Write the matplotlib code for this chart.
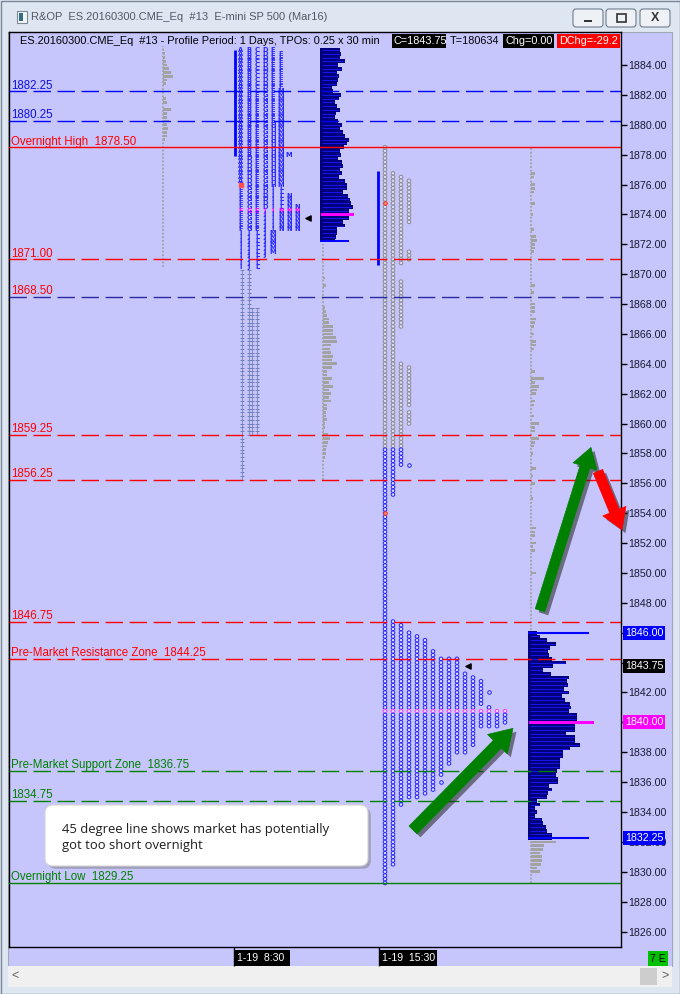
import numpy as np
import matplotlib
matplotlib.use("Agg")
import matplotlib.pyplot as plt
from matplotlib.patches import Rectangle, FancyBboxPatch
from matplotlib.ticker import FuncFormatter
import matplotlib.patheffects as pe

plt.rcParams['font.family'] = ['Liberation Sans', 'DejaVu Sans']
plt.rcParams['lines.scale_dashes'] = False

# ---------------- data ----------------
title = "R&OP  ES.20160300.CME_Eq  #13  E-mini SP 500 (Mar16)"
header = "ES.20160300.CME_Eq  #13 - Profile Period: 1 Days, TPOs: 0.25 x 30 min"
callout = "45 degree line shows market has potentially\ngot too short overnight"

levels = [1882.25, 1880.25, 1878.50, 1871.00, 1868.50, 1859.25, 1856.25,
          1846.75, 1844.25, 1836.75, 1834.75, 1829.25]
level_labels = ["1882.25", "1880.25", "Overnight High  1878.50", "1871.00", "1868.50",
                "1859.25", "1856.25", "1846.75", "Pre-Market Resistance Zone  1844.25",
                "Pre-Market Support Zone  1836.75", "1834.75", "Overnight Low  1829.25"]
level_line_colors = ["#0000ff", "#0000ff", "#ff0000", "#ff0000", "#2a2aa0", "#ff0000", "#ff0000",
                     "#ff0000", "#ff0000", "#008000", "#008000", "#008000"]
level_text_colors = ["#1010e0", "#1010e0", "#ff0000", "#ff0000", "#ff0000", "#ff0000", "#ff0000",
                     "#ff0000", "#ff0000", "#008000", "#008000", "#008000"]
level_solid = [False, False, True, False, False, False, False, False, False, False, False, True]

# dark volume profiles (bars from top price downward, 0.25 steps)
left_vol_top = 1885.0
left_vol_len = [20, 21, 20, 25, 18, 22, 17, 19, 18, 17, 12, 13, 21, 19, 15, 17, 20, 16, 15, 18,
                22, 20, 23, 25, 29, 27, 24, 20, 21, 18, 22, 23, 20, 22, 19, 25, 27, 27, 23, 28,
                30, 31, 33, 29, 33, 29, 23, 25, 17, 17, 16, 15]
left_vol_poc, left_vol_poc_len = 1874.0, 33
left_vol_edge, left_vol_edge_len = 1872.25, 29

right_vol_top = 1846.0
right_vol_len = [9, 12, 19, 28, 22, 20, 21, 24, 38, 25, 15, 23, 41, 39, 40, 36, 41, 34, 37, 42,
                 43, 41, 49, 49, 49, 47, 47, 38, 47, 47, 52, 42, 35, 35, 32, 32, 32, 29, 28, 30,
                 30, 21, 24, 20, 19, 9, 12, 7, 9, 7, 14, 15, 18, 19, 24, 24]
right_vol_poc, right_vol_poc_len = 1840.0, 65
right_vol_edges, right_vol_edge_len = [1846.0, 1832.25], 61

# small gray profiles
gray1_prices = [1885.0, 1884.75, 1884.5, 1884.25, 1884.0, 1883.75, 1883.5, 1883.25, 1883.0, 1882.75,
                1881.75, 1881.5, 1881.0, 1880.75, 1880.5, 1880.25, 1880.0, 1879.75, 1879.5, 1879.25, 1879.0]
gray1_len = [1, 2, 2, 3, 4, 6, 8, 10, 4, 3, 3, 4, 8, 4, 4, 6, 4, 5, 4, 4, 2]
gray1_span = (1885.25, 1870.5)

gray2_prices = [1869.75, 1869.25] + list(np.arange(1867.75, 1857.4, -0.25))
gray2_len = [2, 3, 2, 3, 4, 6, 6, 10, 10, 10, 13, 14, 8, 7, 8, 10, 9, 14, 9, 4, 4, 9,
             6, 10, 6, 8, 6, 8, 4, 4, 3, 3, 4, 2, 2, 1, 5, 7, 5, 4, 3, 3, 2, 1]
gray2_span = (1872.0, 1856.25)

gray3_prices = [1876.75, 1876.5, 1876.0, 1875.75, 1875.5, 1874.75, 1874.0, 1873.0, 1872.5, 1872.25,
                1872.0, 1871.75, 1871.5, 1869.25, 1868.75, 1868.0, 1867.75, 1867.5, 1867.0, 1866.75,
                1866.5, 1866.0, 1865.5, 1865.25, 1865.0, 1863.5, 1863.0, 1862.75, 1862.5, 1862.25,
                1862.0, 1861.5, 1861.25, 1860.5, 1860.0, 1859.75, 1859.5, 1859.0, 1858.75, 1858.5,
                1858.0, 1857.0, 1856.5, 1856.0, 1855.0, 1853.0, 1852.75, 1852.5, 1852.0, 1851.75,
                1851.5, 1850.0, 1832.0, 1831.75, 1831.5, 1831.25, 1831.0, 1830.75, 1830.5, 1830.25, 1830.0]
gray3_len = [4, 3, 4, 4, 3, 4, 2, 3, 5, 6, 4, 4, 3, 4, 3, 4, 4, 4, 5, 4, 3, 3, 5, 5, 3,
             4, 13, 4, 8, 6, 5, 4, 3, 3, 8, 4, 4, 8, 4, 3, 2, 5, 2, 4, 2, 5, 4, 4, 5, 2, 4, 5,
             25, 13, 12, 9, 11, 11, 10, 6, 9]
gray3_span = (1878.5, 1829.25)

# letter TPO block: (top, bottom, letter) per column
letter_segs = [
    [(1885.0, 1876.25, 'A'), (1876.0, 1873.0, 'F'), (1872.75, 1870.5, 'I')],
    [(1885.0, 1878.0, 'B'), (1877.75, 1876.0, 'D'), (1875.75, 1873.0, 'G'), (1872.75, 1870.5, 'J')],
    [(1885.0, 1882.25, 'C'), (1882.0, 1873.0, 'E'), (1872.75, 1870.5, 'L')],
    [(1885.0, 1882.25, 'D'), (1882.0, 1876.0, 'G'), (1875.75, 1874.5, 'D'), (1874.25, 1871.25, 'J')],
    [(1885.0, 1880.25, 'E'), (1880.0, 1876.0, 'H'), (1875.75, 1873.0, 'I'), (1872.75, 1871.5, 'M')],
    [(1884.75, 1882.5, 'F'), (1882.25, 1876.0, 'M'), (1875.75, 1874.5, 'L'), (1874.25, 1873.0, 'N')],
    [(1878.0, 1878.0, 'M'), (1875.25, 1873.0, 'N')],
    [(1874.5, 1873.0, 'N')],
]
letter_poc = 1874.25
tick_cols = [(1870.25, 1856.25), (1870.25, 1859.25), (1867.75, 1859.25), (1867.75, 1859.25)]

# circle TPO block: gray and blue segments per column
circle_gray = [[(1878.5, 1858.5)], [(1876.75, 1858.5)],
               [(1876.5, 1870.75), (1869.5, 1866.5), (1864.0, 1858.5)],
               [(1876.25, 1873.5), (1871.5, 1871.0), (1863.75, 1861.25), (1860.75, 1860.0)]]
circle_blue = [[(1858.25, 1829.25)],
               [(1858.25, 1855.25), (1846.75, 1830.5)],
               [(1858.25, 1857.25), (1846.5, 1834.5)],
               [(1857.25, 1857.25), (1846.0, 1835.0)],
               [(1845.75, 1835.0)], [(1845.5, 1835.25)], [(1844.75, 1835.5)],
               [(1844.25, 1836.5), (1836.0, 1836.0)], [(1844.25, 1837.25)], [(1844.25, 1838.0)],
               [(1843.25, 1838.0)], [(1843.0, 1838.5)],
               [(1842.75, 1841.25), (1840.75, 1839.75)],
               [(1842.0, 1842.0), (1841.0, 1839.75)],
               [(1840.75, 1839.75)], [(1840.75, 1840.0)]]
circle_poc = 1840.75
open_marks = [1874.75, 1854.0]

# highlighted right-axis prices
price_tags = [1846.00, 1843.75, 1840.00, 1832.25]
price_tag_colors = ["#0000ff", "#000000", "#ff00ff", "#0000ff"]
hidden_ticks = [1846, 1844, 1840]

time_labels = ["1-19  8:30", "1-19  15:30"]

# ---------------- layout (pixels) ----------------
W, H = 680, 994
Y0, P0, PPP = 65, 1884.0, 14.94


def price_at(py):
    return P0 - (py - Y0) / PPP


fig = plt.figure(figsize=(W / 100, H / 100), dpi=100)
fig.patch.set_facecolor('#dde6f1')

bg = fig.add_axes([0, 0, 1, 1], zorder=-1)
bg.set_xlim(0, W); bg.set_ylim(H, 0); bg.axis('off')
bg.add_patch(Rectangle((0.5, 0.5), W - 1, H - 1, fc='#dde6f1', ec='#7a8898', lw=1))
bg.add_patch(Rectangle((8, 32), 664, 934, fc='#c6c6fc', ec='#a0a8b8', lw=0.8))
bg.add_patch(Rectangle((8, 966), 664, 21, fc='#f0f0f0', ec='none'))
bg.add_patch(Rectangle((640, 968), 17, 17, fc='#cdcdcd', ec='none'))
bg.text(15, 976, '<', fontsize=9, color='#606060', va='center', ha='center')
bg.text(665, 976, '>', fontsize=9, color='#606060', va='center', ha='center')
# title bar
bg.add_patch(Rectangle((17, 11), 10, 12, fc='#f4f4f4', ec='#7a8898', lw=0.8))
bg.add_patch(Rectangle((19, 13), 4, 8, fc='#2f6f7f', ec='none'))
bg.text(31, 17.5, title, fontsize=8.0, color='#505a66', va='center', ha='left')
for bx in [573, 606, 640]:
    bg.add_patch(FancyBboxPatch((bx, 9), 30, 18, boxstyle='round,pad=0,rounding_size=3',
                                fc='#eef2f7', ec='#6f7c8c', lw=0.8))
bg.add_patch(Rectangle((584, 19.5), 8, 2, fc='#333', ec='none'))
bg.add_patch(Rectangle((616.5, 13.5), 9, 8, fc='none', ec='#333', lw=1.2))
bg.text(655, 18, 'X', fontsize=9, color='#333', va='center', ha='center', fontweight='bold')

# ---------------- main chart ----------------
ax = fig.add_axes([9 / W, 1 - 947 / H, (621 - 9) / W, (947 - 32) / H], zorder=1)
ax.set_facecolor('#c6c6fc')
ax.set_xlim(9, 621)
ax.set_ylim(price_at(947), price_at(32))
for s in ax.spines.values():
    s.set_color('black'); s.set_linewidth(1)
ax.set_xticks([])
ax.yaxis.tick_right()
ax.set_yticks(np.arange(1826, 1885, 2))
ax.yaxis.set_major_formatter(FuncFormatter(lambda v, _: '' if round(v) in hidden_ticks else f"{v:.2f}"))
ax.tick_params(axis='y', length=4, width=1, pad=1.5, labelsize=7.7, labelcolor='#1a1a33')

# gray thin profiles
for x0, prices, lens, span in [(162.5, gray1_prices, gray1_len, gray1_span),
                               (322.5, gray2_prices, gray2_len, gray2_span),
                               (530.5, gray3_prices, gray3_len, gray3_span)]:
    ax.vlines(x0, span[1], span[0], colors='#a0a0a0', linestyles=(0, (1.3, 1.3)), lw=1.3, zorder=2)
    ax.barh(prices, lens, left=x0, height=0.18, color='#a2a2a2', zorder=2)

# dark volume profiles
lp = left_vol_top - 0.25 * np.arange(len(left_vol_len))
ax.barh(lp, left_vol_len, left=320, height=0.25, color='#00007c', zorder=3)
ax.hlines(lp, 322, 320 + np.array(left_vol_len) - 1.5, colors='#1a1aff', lw=0.6, zorder=3)
ax.barh([left_vol_poc], [left_vol_poc_len], left=321, height=0.2, color='#ff00ff', zorder=4)
ax.hlines(left_vol_edge, 320, 320 + left_vol_edge_len, colors='#0000ff', lw=1.4, zorder=4)

rp = right_vol_top - 0.25 * np.arange(len(right_vol_len))
ax.barh(rp, right_vol_len, left=528, height=0.25, color='#00007c', zorder=3)
ax.hlines(rp, 530, 528 + np.array(right_vol_len) - 1.5, colors='#1a1aff', lw=0.6, zorder=3)
ax.barh([right_vol_poc], [right_vol_poc_len], left=529, height=0.2, color='#ff00ff', zorder=4)
ax.hlines(right_vol_edges, 528, 528 + right_vol_edge_len, colors='#0000ff', lw=1.5, zorder=4)

# letter TPO block
ax.vlines(234.5, 1877.9, 1885.0, colors='#0000ff', lw=2, zorder=3)
for i, segs in enumerate(letter_segs):
    x = 241 + 8 * i
    for top, bot, letter in segs:
        for p in np.arange(top, bot - 0.01, -0.25):
            c = '#ff00ff' if abs(p - letter_poc) < 0.01 else '#2828ff'
            ax.text(x, p, letter, fontsize=4.8, color=c, ha='center', va='center',
                    fontweight='bold', family='DejaVu Sans', zorder=3)
ax.scatter([241], [1876.0], marker='s', s=5, color='#ff5050', zorder=4)
for x, (top, bot) in zip([241.5, 248.5, 251.5, 256.5], tick_cols):
    ax.vlines(x, bot, top, colors='#8890b8', lw=0.8, zorder=3)
    pp = np.arange(top, bot - 0.01, -0.25)
    ax.scatter(np.full(len(pp), x), pp, marker='_', s=5, color='#7080c0', lw=0.7, zorder=3)
ax.scatter([308], [1873.75], marker='<', s=14, color='black', zorder=4)

# circle TPO block
ax.vlines(378, 1870.6, 1876.9, colors='#0000ff', lw=2, zorder=3)
for segs_list, ec in [(circle_gray, '#8e8e8e'), (circle_blue, '#2a2aff')]:
    for i, segs in enumerate(segs_list):
        x = 385 + 8 * i
        for top, bot in segs:
            pp = np.arange(top, bot - 0.01, -0.25)
            cols = ['#ff40ff' if abs(p - circle_poc) < 0.01 else ec for p in pp]
            ax.scatter(np.full(len(pp), x), pp, s=6.5, facecolors='#dcdcff', edgecolors=cols,
                       lw=0.75, zorder=3)
ax.scatter([385] * len(open_marks), open_marks, s=6.5, facecolors='#ffa060', edgecolors='#ff3030',
           lw=0.75, zorder=4)
ax.scatter([468], [1843.75], marker='<', s=14, color='black', zorder=4)

# level lines and labels
for lv, lab, lc, tc, solid in zip(levels, level_labels, level_line_colors, level_text_colors, level_solid):
    ls = '-' if solid else (0, (12.5, 4.8))
    ax.axhline(lv, color=lc, lw=1.0, ls=ls, zorder=5)
    ax.text(11, lv + 0.17, lab, fontsize=8.3, color=tc, va='baseline', ha='left', zorder=5)

# highlighted right-axis prices
for p, c in zip(price_tags, price_tag_colors):
    ax.text(625, p, f"{p:.2f}", fontsize=7.7, color='white', va='center', ha='left', clip_on=False,
            zorder=6, bbox=dict(boxstyle='square,pad=0.18', fc=c, ec='none'))

# arrows
shadow = [pe.withSimplePatchShadow(offset=(2.5, -2.5), shadow_rgbFace='#202020', alpha=0.55)]
arrows = [((413, 1832.8), (513, 1839.6), '#008000', 1.0),
          ((540, 1847.5), (591, 1858.4), '#008000', 0.9),
          ((598, 1856.8), (622, 1852.9), '#ff0000', 0.9)]
for (x0, y0), (x1, y1), col, k in arrows:
    ax.annotate('', xy=(x1, y1), xytext=(x0, y0), annotation_clip=False, zorder=7,
                arrowprops=dict(arrowstyle=f'simple,head_length={1.6*k},head_width={2.0*k},tail_width={0.8*k}',
                                mutation_scale=10, fc=col, ec=col, lw=0.5,
                                shrinkA=0, shrinkB=0, path_effects=shadow))

# ---------------- overlay: header, time strip, callout ----------------
ov = fig.add_axes([0, 0, 1, 1], zorder=5)
ov.set_xlim(0, W); ov.set_ylim(H, 0); ov.axis('off')
ov.patch.set_alpha(0)
ov.text(20, 41, header, fontsize=7.9, color='black', va='center', ha='left')
for x0, w, txt, fc, tc in [(392, 54, "C=1843.75", 'black', 'white'),
                           (448, 55, "T=180634", 'none', 'black'),
                           (503, 51, "Chg=0.00", 'black', 'white'),
                           (557, 63, "DChg=-29.2", '#ff0000', 'white')]:
    ov.add_patch(Rectangle((x0, 34), w, 14, fc=fc, ec='none'))
    ov.text(x0 + 2, 41, txt, fontsize=7.8, color=tc, va='center', ha='left', clip_on=True)

ov.vlines([233.5, 378.5], 947, 966, colors='black', lw=1)
for x0, w, txt in [(235, 55, time_labels[0]), (380, 57, time_labels[1])]:
    ov.add_patch(Rectangle((x0, 950), w, 16, fc='black', ec='none'))
    ov.text(x0 + 2, 958, txt, fontsize=7.6, color='white', va='center', ha='left')
ov.add_patch(Rectangle((648, 951), 20, 15, fc='#00c000', ec='none'))
ov.text(658, 958.5, '7 E', fontsize=7.6, color='black', va='center', ha='center')

box = FancyBboxPatch((45, 805), 323, 61, boxstyle='round,pad=0,rounding_size=8',
                     fc='white', ec='#d4d4d4', lw=0.8,
                     path_effects=[pe.withSimplePatchShadow(offset=(2, -2), shadow_rgbFace='#707070', alpha=0.45)])
ov.add_patch(box)
ov.text(62, 837, callout, fontsize=9.4, color='#1e1e1e', va='center', ha='left',
        family=['Open Sans', 'DejaVu Sans'], linespacing=1.3)

fig.savefig('out.png', dpi=100, facecolor=fig.get_facecolor())
